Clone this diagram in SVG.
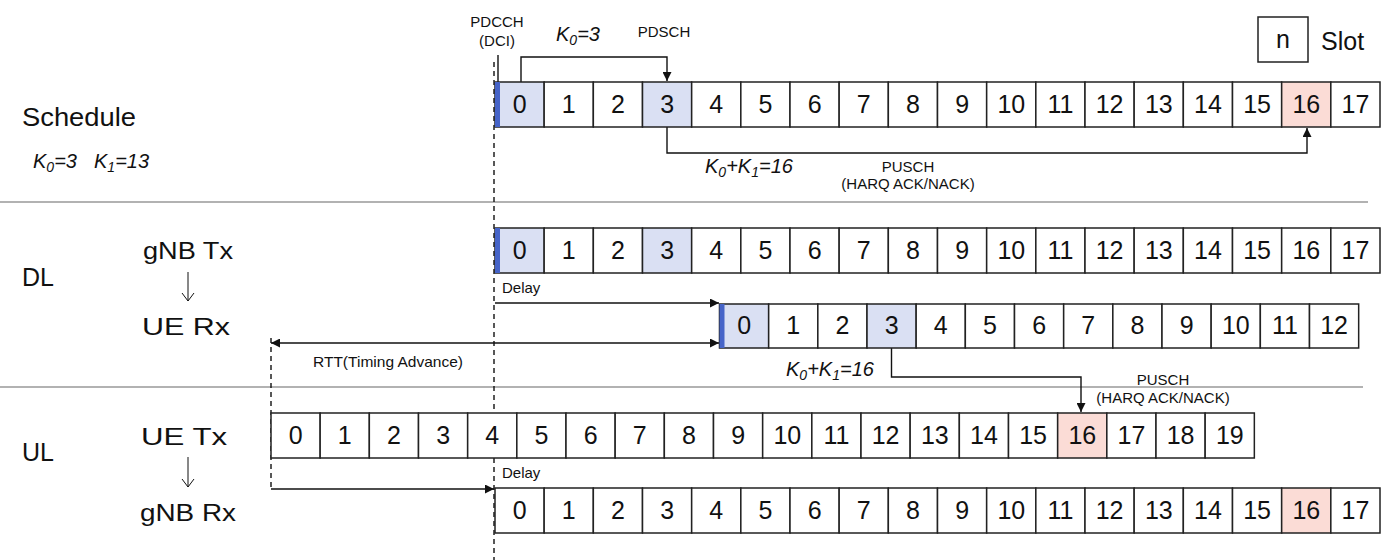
<svg xmlns="http://www.w3.org/2000/svg" width="1400" height="560" viewBox="0 0 1400 560">
<defs>
<marker id="ah" viewBox="0 0 10 10" refX="10" refY="5" markerWidth="9" markerHeight="9" markerUnits="userSpaceOnUse" orient="auto-start-reverse"><path d="M0,0 L10,5 L0,10 z" fill="#111"/></marker>
</defs>
<style>
text{font-family:"Liberation Sans",Arial,sans-serif;fill:#111}
.c{fill:#fff;stroke:#222;stroke-width:1.5}
.b{fill:#dae0f3;stroke:#222;stroke-width:1.5}
.p{fill:#fbdcd6;stroke:#222;stroke-width:1.5}
.bar{fill:#4664c8}
.n{font-size:25px;text-anchor:middle}
.lbl{font-size:25px}
.sub{font-size:24px;text-anchor:middle}
.sm{font-size:15px}
.smc{font-size:15px;text-anchor:middle}
.it{font-size:20px;font-style:italic}
.ln{fill:none;stroke:#111;stroke-width:1.4}
.dash{fill:none;stroke:#111;stroke-width:1.4;stroke-dasharray:5 4}
.sep{stroke:#999;stroke-width:1.5}
.thin{fill:none;stroke:#111;stroke-width:1}
</style>

<g id="separators">
<line class="sep" x1="0" y1="202" x2="1368" y2="202"/>
<line class="sep" x1="0" y1="387" x2="1363" y2="387"/>
</g>

<g id="guides">
<line class="dash" x1="494" y1="62" x2="494" y2="560"/>
<line class="dash" x1="271" y1="338" x2="271" y2="489"/>
</g>

<g id="labels">
<text class="lbl" x="22" y="126" textLength="114" lengthAdjust="spacingAndGlyphs">Schedule</text>
<text class="it" x="33" y="168">K<tspan font-size="14" dy="4">0</tspan><tspan dy="-4">=3</tspan></text>
<text class="it" x="94" y="168">K<tspan font-size="14" dy="4">1</tspan><tspan dy="-4">=13</tspan></text>
<text class="lbl" x="22" y="286">DL</text>
<text class="lbl" x="22" y="461">UL</text>
<text class="sub" x="188" y="259" textLength="90" lengthAdjust="spacingAndGlyphs">gNB Tx</text>
<text class="sub" x="186" y="335" textLength="88" lengthAdjust="spacingAndGlyphs">UE Rx</text>
<text class="sub" x="184" y="445" textLength="86" lengthAdjust="spacingAndGlyphs">UE Tx</text>
<text class="sub" x="188" y="521" textLength="96" lengthAdjust="spacingAndGlyphs">gNB Rx</text>
<path class="thin" d="M188,272 V301 M182,293 L188,301 L194,293"/>
<path class="thin" d="M188,457 V487 M182,479 L188,487 L194,479"/>
<text class="smc" x="497" y="27">PDCCH</text>
<text class="smc" x="497" y="46">(DCI)</text>
<text class="it" x="556" y="41">K<tspan font-size="14" dy="4">0</tspan><tspan dy="-4">=3</tspan></text>
<text class="smc" x="664" y="37">PDSCH</text>
<text class="it" x="705" y="173">K<tspan font-size="14" dy="4">0</tspan><tspan dy="-4">+K</tspan><tspan font-size="14" dy="4">1</tspan><tspan dy="-4">=16</tspan></text>
<text class="smc" x="908" y="172">PUSCH</text>
<text class="smc" x="908" y="189">(HARQ ACK/NACK)</text>
<text class="sm" x="502" y="293">Delay</text>
<text class="sm" x="313" y="367" textLength="150" lengthAdjust="spacingAndGlyphs">RTT(Timing Advance)</text>
<text class="it" x="786" y="376">K<tspan font-size="14" dy="4">0</tspan><tspan dy="-4">+K</tspan><tspan font-size="14" dy="4">1</tspan><tspan dy="-4">=16</tspan></text>
<text class="smc" x="1163" y="385">PUSCH</text>
<text class="smc" x="1163" y="403">(HARQ ACK/NACK)</text>
<text class="sm" x="502" y="478">Delay</text>
</g>

<g id="legend">
<rect class="c" x="1258" y="17" width="50" height="45"/>
<text class="n" x="1283" y="48">n</text>
<text class="lbl" x="1321" y="50">Slot</text>
</g>

<g id="connectors">
<line class="ln" x1="498" y1="55" x2="498" y2="82"/>
<path class="ln" d="M521,82 V57 H667 V81" marker-end="url(#ah)"/>
<path class="ln" d="M667,127 V153 H1307 V128" marker-end="url(#ah)"/>
<line class="ln" x1="495" y1="303" x2="719" y2="303" marker-end="url(#ah)"/>
<line class="ln" x1="271" y1="343" x2="719" y2="343" marker-start="url(#ah)" marker-end="url(#ah)"/>
<path class="ln" d="M891.5,348 V377 H1081 V412" marker-end="url(#ah)"/>
<line class="ln" x1="271" y1="489" x2="494" y2="489" marker-end="url(#ah)"/>
</g>

<g id="row-schedule">
<rect class="b" x="495" y="82" width="49.17" height="45"/><text class="n" x="519.6" y="113">0</text>
<rect class="c" x="544.17" y="82" width="49.17" height="45"/><text class="n" x="568.8" y="113">1</text>
<rect class="c" x="593.33" y="82" width="49.17" height="45"/><text class="n" x="617.9" y="113">2</text>
<rect class="b" x="642.5" y="82" width="49.17" height="45"/><text class="n" x="667.1" y="113">3</text>
<rect class="c" x="691.67" y="82" width="49.17" height="45"/><text class="n" x="716.3" y="113">4</text>
<rect class="c" x="740.83" y="82" width="49.17" height="45"/><text class="n" x="765.4" y="113">5</text>
<rect class="c" x="790" y="82" width="49.17" height="45"/><text class="n" x="814.6" y="113">6</text>
<rect class="c" x="839.17" y="82" width="49.17" height="45"/><text class="n" x="863.8" y="113">7</text>
<rect class="c" x="888.33" y="82" width="49.17" height="45"/><text class="n" x="912.9" y="113">8</text>
<rect class="c" x="937.5" y="82" width="49.17" height="45"/><text class="n" x="962.1" y="113">9</text>
<rect class="c" x="986.67" y="82" width="49.17" height="45"/><text class="n" x="1011.3" y="113">10</text>
<rect class="c" x="1035.83" y="82" width="49.17" height="45"/><text class="n" x="1060.4" y="113">11</text>
<rect class="c" x="1085" y="82" width="49.17" height="45"/><text class="n" x="1109.6" y="113">12</text>
<rect class="c" x="1134.17" y="82" width="49.17" height="45"/><text class="n" x="1158.8" y="113">13</text>
<rect class="c" x="1183.33" y="82" width="49.17" height="45"/><text class="n" x="1207.9" y="113">14</text>
<rect class="c" x="1232.5" y="82" width="49.17" height="45"/><text class="n" x="1257.1" y="113">15</text>
<rect class="p" x="1281.67" y="82" width="49.17" height="45"/><text class="n" x="1306.3" y="113">16</text>
<rect class="c" x="1330.83" y="82" width="49.17" height="45"/><text class="n" x="1355.4" y="113">17</text>
<rect class="bar" x="495" y="82" width="5" height="45"/>
</g>

<g id="row-gnb-tx">
<rect class="b" x="495" y="228" width="49.17" height="45"/><text class="n" x="519.6" y="259">0</text>
<rect class="c" x="544.17" y="228" width="49.17" height="45"/><text class="n" x="568.8" y="259">1</text>
<rect class="c" x="593.33" y="228" width="49.17" height="45"/><text class="n" x="617.9" y="259">2</text>
<rect class="b" x="642.5" y="228" width="49.17" height="45"/><text class="n" x="667.1" y="259">3</text>
<rect class="c" x="691.67" y="228" width="49.17" height="45"/><text class="n" x="716.3" y="259">4</text>
<rect class="c" x="740.83" y="228" width="49.17" height="45"/><text class="n" x="765.4" y="259">5</text>
<rect class="c" x="790" y="228" width="49.17" height="45"/><text class="n" x="814.6" y="259">6</text>
<rect class="c" x="839.17" y="228" width="49.17" height="45"/><text class="n" x="863.8" y="259">7</text>
<rect class="c" x="888.33" y="228" width="49.17" height="45"/><text class="n" x="912.9" y="259">8</text>
<rect class="c" x="937.5" y="228" width="49.17" height="45"/><text class="n" x="962.1" y="259">9</text>
<rect class="c" x="986.67" y="228" width="49.17" height="45"/><text class="n" x="1011.3" y="259">10</text>
<rect class="c" x="1035.83" y="228" width="49.17" height="45"/><text class="n" x="1060.4" y="259">11</text>
<rect class="c" x="1085" y="228" width="49.17" height="45"/><text class="n" x="1109.6" y="259">12</text>
<rect class="c" x="1134.17" y="228" width="49.17" height="45"/><text class="n" x="1158.8" y="259">13</text>
<rect class="c" x="1183.33" y="228" width="49.17" height="45"/><text class="n" x="1207.9" y="259">14</text>
<rect class="c" x="1232.5" y="228" width="49.17" height="45"/><text class="n" x="1257.1" y="259">15</text>
<rect class="c" x="1281.67" y="228" width="49.17" height="45"/><text class="n" x="1306.3" y="259">16</text>
<rect class="c" x="1330.83" y="228" width="49.17" height="45"/><text class="n" x="1355.4" y="259">17</text>
<rect class="bar" x="495" y="228" width="5" height="45"/>
</g>

<g id="row-ue-rx">
<rect class="b" x="719.5" y="304" width="49.17" height="44"/><text class="n" x="744.1" y="334">0</text>
<rect class="c" x="768.67" y="304" width="49.17" height="44"/><text class="n" x="793.3" y="334">1</text>
<rect class="c" x="817.83" y="304" width="49.17" height="44"/><text class="n" x="842.4" y="334">2</text>
<rect class="b" x="867" y="304" width="49.17" height="44"/><text class="n" x="891.6" y="334">3</text>
<rect class="c" x="916.17" y="304" width="49.17" height="44"/><text class="n" x="940.8" y="334">4</text>
<rect class="c" x="965.33" y="304" width="49.17" height="44"/><text class="n" x="989.9" y="334">5</text>
<rect class="c" x="1014.5" y="304" width="49.17" height="44"/><text class="n" x="1039.1" y="334">6</text>
<rect class="c" x="1063.67" y="304" width="49.17" height="44"/><text class="n" x="1088.3" y="334">7</text>
<rect class="c" x="1112.83" y="304" width="49.17" height="44"/><text class="n" x="1137.4" y="334">8</text>
<rect class="c" x="1162" y="304" width="49.17" height="44"/><text class="n" x="1186.6" y="334">9</text>
<rect class="c" x="1211.17" y="304" width="49.17" height="44"/><text class="n" x="1235.8" y="334">10</text>
<rect class="c" x="1260.33" y="304" width="49.17" height="44"/><text class="n" x="1284.9" y="334">11</text>
<rect class="c" x="1309.5" y="304" width="49.17" height="44"/><text class="n" x="1334.1" y="334">12</text>
<rect class="bar" x="719.5" y="304" width="5" height="44"/>
</g>

<g id="row-ue-tx">
<rect class="c" x="271" y="413" width="49.17" height="45"/><text class="n" x="295.6" y="444">0</text>
<rect class="c" x="320.17" y="413" width="49.17" height="45"/><text class="n" x="344.8" y="444">1</text>
<rect class="c" x="369.33" y="413" width="49.17" height="45"/><text class="n" x="393.9" y="444">2</text>
<rect class="c" x="418.5" y="413" width="49.17" height="45"/><text class="n" x="443.1" y="444">3</text>
<rect class="c" x="467.67" y="413" width="49.17" height="45"/><text class="n" x="492.3" y="444">4</text>
<rect class="c" x="516.83" y="413" width="49.17" height="45"/><text class="n" x="541.4" y="444">5</text>
<rect class="c" x="566" y="413" width="49.17" height="45"/><text class="n" x="590.6" y="444">6</text>
<rect class="c" x="615.17" y="413" width="49.17" height="45"/><text class="n" x="639.8" y="444">7</text>
<rect class="c" x="664.33" y="413" width="49.17" height="45"/><text class="n" x="688.9" y="444">8</text>
<rect class="c" x="713.5" y="413" width="49.17" height="45"/><text class="n" x="738.1" y="444">9</text>
<rect class="c" x="762.67" y="413" width="49.17" height="45"/><text class="n" x="787.3" y="444">10</text>
<rect class="c" x="811.83" y="413" width="49.17" height="45"/><text class="n" x="836.4" y="444">11</text>
<rect class="c" x="861" y="413" width="49.17" height="45"/><text class="n" x="885.6" y="444">12</text>
<rect class="c" x="910.17" y="413" width="49.17" height="45"/><text class="n" x="934.8" y="444">13</text>
<rect class="c" x="959.33" y="413" width="49.17" height="45"/><text class="n" x="983.9" y="444">14</text>
<rect class="c" x="1008.5" y="413" width="49.17" height="45"/><text class="n" x="1033.1" y="444">15</text>
<rect class="p" x="1057.67" y="413" width="49.17" height="45"/><text class="n" x="1082.3" y="444">16</text>
<rect class="c" x="1106.83" y="413" width="49.17" height="45"/><text class="n" x="1131.4" y="444">17</text>
<rect class="c" x="1156" y="413" width="49.17" height="45"/><text class="n" x="1180.6" y="444">18</text>
<rect class="c" x="1205.17" y="413" width="49.17" height="45"/><text class="n" x="1229.8" y="444">19</text>
</g>

<g id="row-gnb-rx">
<rect class="c" x="495" y="488" width="49.17" height="45"/><text class="n" x="519.6" y="519">0</text>
<rect class="c" x="544.17" y="488" width="49.17" height="45"/><text class="n" x="568.8" y="519">1</text>
<rect class="c" x="593.33" y="488" width="49.17" height="45"/><text class="n" x="617.9" y="519">2</text>
<rect class="c" x="642.5" y="488" width="49.17" height="45"/><text class="n" x="667.1" y="519">3</text>
<rect class="c" x="691.67" y="488" width="49.17" height="45"/><text class="n" x="716.3" y="519">4</text>
<rect class="c" x="740.83" y="488" width="49.17" height="45"/><text class="n" x="765.4" y="519">5</text>
<rect class="c" x="790" y="488" width="49.17" height="45"/><text class="n" x="814.6" y="519">6</text>
<rect class="c" x="839.17" y="488" width="49.17" height="45"/><text class="n" x="863.8" y="519">7</text>
<rect class="c" x="888.33" y="488" width="49.17" height="45"/><text class="n" x="912.9" y="519">8</text>
<rect class="c" x="937.5" y="488" width="49.17" height="45"/><text class="n" x="962.1" y="519">9</text>
<rect class="c" x="986.67" y="488" width="49.17" height="45"/><text class="n" x="1011.3" y="519">10</text>
<rect class="c" x="1035.83" y="488" width="49.17" height="45"/><text class="n" x="1060.4" y="519">11</text>
<rect class="c" x="1085" y="488" width="49.17" height="45"/><text class="n" x="1109.6" y="519">12</text>
<rect class="c" x="1134.17" y="488" width="49.17" height="45"/><text class="n" x="1158.8" y="519">13</text>
<rect class="c" x="1183.33" y="488" width="49.17" height="45"/><text class="n" x="1207.9" y="519">14</text>
<rect class="c" x="1232.5" y="488" width="49.17" height="45"/><text class="n" x="1257.1" y="519">15</text>
<rect class="p" x="1281.67" y="488" width="49.17" height="45"/><text class="n" x="1306.3" y="519">16</text>
<rect class="c" x="1330.83" y="488" width="49.17" height="45"/><text class="n" x="1355.4" y="519">17</text>
</g>
</svg>
